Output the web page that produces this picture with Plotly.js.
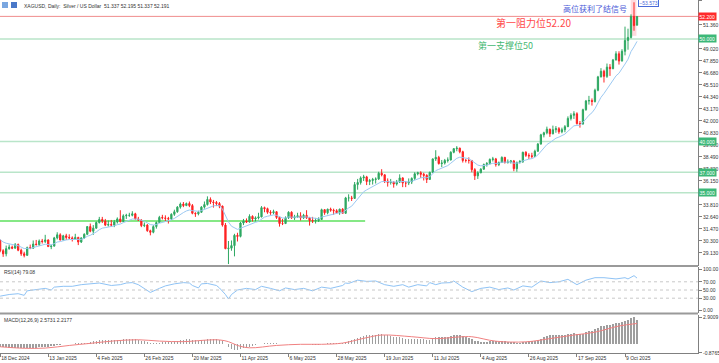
<!DOCTYPE html>
<html><head><meta charset="utf-8">
<script src="https://cdn.plot.ly/plotly-3.0.1.min.js"></script>
<style>html,body{margin:0;padding:0;background:#fff}#c{width:719px;height:363px}</style>
</head><body><div id="c"></div>
<script>
// ---- trading days (bars) ----
const dates = [
"2024-12-18","2024-12-19","2024-12-20","2024-12-23","2024-12-24","2024-12-26","2024-12-27","2024-12-30","2024-12-31","2025-01-02",
"2025-01-03","2025-01-06","2025-01-07","2025-01-08","2025-01-09","2025-01-10","2025-01-13","2025-01-14","2025-01-15","2025-01-16",
"2025-01-17","2025-01-20","2025-01-21","2025-01-22","2025-01-23","2025-01-24","2025-01-27","2025-01-28","2025-01-29","2025-01-30",
"2025-01-31","2025-02-03","2025-02-04","2025-02-05","2025-02-06","2025-02-07","2025-02-10","2025-02-11","2025-02-12","2025-02-13",
"2025-02-14","2025-02-17","2025-02-18","2025-02-19","2025-02-20","2025-02-21","2025-02-24","2025-02-25","2025-02-26","2025-02-27",
"2025-02-28","2025-03-03","2025-03-04","2025-03-05","2025-03-06","2025-03-07","2025-03-10","2025-03-11","2025-03-12","2025-03-13",
"2025-03-14","2025-03-17","2025-03-18","2025-03-19","2025-03-20","2025-03-21","2025-03-24","2025-03-25","2025-03-26","2025-03-27",
"2025-03-28","2025-03-31","2025-04-01","2025-04-02","2025-04-03","2025-04-04","2025-04-07","2025-04-08","2025-04-09","2025-04-10",
"2025-04-11","2025-04-14","2025-04-15","2025-04-16","2025-04-17","2025-04-21","2025-04-22","2025-04-23","2025-04-24","2025-04-25",
"2025-04-28","2025-04-29","2025-04-30","2025-05-01","2025-05-02","2025-05-05","2025-05-06","2025-05-07","2025-05-08","2025-05-09",
"2025-05-12","2025-05-13","2025-05-14","2025-05-15","2025-05-16","2025-05-19","2025-05-20","2025-05-21","2025-05-22","2025-05-23",
"2025-05-26","2025-05-27","2025-05-28","2025-05-29","2025-05-30","2025-06-02","2025-06-03","2025-06-04","2025-06-05","2025-06-06",
"2025-06-09","2025-06-10","2025-06-11","2025-06-12","2025-06-13","2025-06-16","2025-06-17","2025-06-18","2025-06-19","2025-06-20",
"2025-06-23","2025-06-24","2025-06-25","2025-06-26","2025-06-27","2025-06-30","2025-07-01","2025-07-02","2025-07-03","2025-07-04",
"2025-07-07","2025-07-08","2025-07-09","2025-07-10","2025-07-11","2025-07-14","2025-07-15","2025-07-16","2025-07-17","2025-07-18",
"2025-07-21","2025-07-22","2025-07-23","2025-07-24","2025-07-25","2025-07-28","2025-07-29","2025-07-30","2025-07-31","2025-08-01",
"2025-08-04","2025-08-05","2025-08-06","2025-08-07","2025-08-08","2025-08-11","2025-08-12","2025-08-13","2025-08-14","2025-08-15",
"2025-08-18","2025-08-19","2025-08-20","2025-08-21","2025-08-22","2025-08-25","2025-08-26","2025-08-27","2025-08-28","2025-08-29",
"2025-09-01","2025-09-02","2025-09-03","2025-09-04","2025-09-05","2025-09-08","2025-09-09","2025-09-10","2025-09-11","2025-09-12",
"2025-09-15","2025-09-16","2025-09-17","2025-09-18","2025-09-19","2025-09-22","2025-09-23","2025-09-24","2025-09-25","2025-09-26",
"2025-09-29","2025-09-30","2025-10-01","2025-10-02","2025-10-03","2025-10-06","2025-10-07","2025-10-08","2025-10-09","2025-10-10",
"2025-10-13","2025-10-14","2025-10-15"];

const open = [
30.35,29.35,29.05,29.55,29.70,29.60,29.95,29.40,29.05,28.90,
29.65,29.60,30.00,29.95,30.30,30.25,30.40,29.75,29.80,30.60,
30.90,30.40,30.80,30.65,30.60,30.45,30.65,30.20,30.60,30.95,
31.70,31.25,31.55,32.10,32.40,32.25,31.85,31.90,31.85,32.15,
32.45,32.20,32.75,32.80,32.80,32.95,32.45,32.35,31.80,31.85,
31.30,31.15,31.70,32.10,32.60,32.55,32.50,32.45,32.90,33.15,
33.60,33.90,33.75,33.95,33.75,33.00,32.95,33.10,33.60,33.85,
34.35,34.10,34.05,33.95,33.70,31.85,29.55,29.60,29.85,30.85,
30.75,32.05,32.25,32.15,32.70,32.45,32.55,32.65,33.55,33.45,
33.10,33.05,33.15,32.60,32.00,32.00,32.55,33.10,32.55,32.65,
32.75,32.55,32.80,32.55,32.30,32.25,32.30,32.40,33.35,33.05,
33.40,33.30,33.25,33.05,33.40,33.00,34.50,34.50,34.45,35.80,
36.00,36.45,36.55,36.10,36.20,36.30,36.35,36.90,36.75,36.15,
36.00,36.05,35.85,36.05,36.45,35.95,35.95,36.05,36.40,36.85,
36.95,36.80,36.70,36.30,37.00,38.30,38.45,37.85,37.90,38.15,
38.20,38.95,39.30,39.35,39.00,38.15,38.15,38.15,37.25,36.65,
36.95,37.30,37.75,37.85,38.25,38.30,37.75,37.95,38.45,37.95,
38.00,38.10,37.35,37.95,38.05,38.95,38.65,38.60,38.55,39.05,
39.75,40.65,40.85,41.20,40.75,41.15,41.25,40.95,41.15,41.45,
42.25,42.55,42.70,41.75,41.70,43.10,43.95,44.00,43.90,45.00,
46.30,46.85,46.35,47.25,47.10,47.95,48.55,47.85,48.80,49.85,
50.15,52.20,51.337];

const high = [
30.45,29.50,29.85,29.95,29.85,30.10,30.05,29.55,29.25,29.75,
29.95,30.35,30.40,30.45,30.50,30.90,30.45,29.95,30.70,31.15,
31.05,30.90,31.00,30.95,30.75,31.00,30.70,30.65,31.05,31.75,
32.00,31.85,32.20,32.65,32.65,32.45,32.30,32.35,32.35,32.60,
33.30,32.90,32.95,33.05,33.20,33.05,32.65,32.40,32.10,31.95,
31.40,31.85,32.20,32.75,32.85,32.80,32.65,33.00,33.35,33.70,
34.05,34.10,34.05,34.15,33.90,33.10,33.25,33.70,34.15,34.65,
34.55,34.30,34.20,34.10,33.75,32.05,30.30,30.35,31.00,31.10,
32.15,32.45,32.50,32.90,32.80,32.70,33.05,33.70,33.65,33.55,
33.30,33.35,33.20,32.70,32.45,32.70,33.20,33.20,32.85,33.05,
33.10,32.95,33.30,32.65,32.65,32.55,32.60,33.45,33.40,33.45,
33.55,33.45,33.40,33.45,33.50,34.60,34.85,34.70,36.05,36.35,
36.60,36.75,36.65,36.35,36.45,36.50,37.05,37.30,36.80,36.40,
36.35,36.10,36.25,36.80,36.50,36.15,36.40,36.50,37.00,37.05,
37.10,36.95,36.80,37.05,38.35,39.15,38.60,38.20,38.30,38.45,
39.05,39.35,39.55,39.40,39.10,38.30,38.45,38.20,37.40,37.10,
37.40,37.85,38.00,38.35,38.50,38.40,38.05,38.55,38.50,38.25,
38.20,38.20,38.05,38.20,39.00,39.05,38.85,38.90,39.20,39.85,
40.75,40.95,41.45,41.25,41.55,41.50,41.40,41.35,41.60,42.45,
42.75,42.95,42.85,42.00,43.20,44.05,44.45,44.20,45.15,46.40,
47.15,47.00,47.60,47.55,48.05,48.80,48.80,49.00,51.20,51.00,
52.40,53.573,52.195];

const low = [
29.20,28.75,28.80,29.45,29.50,29.55,29.30,28.85,28.70,28.85,
29.50,29.55,29.85,29.80,30.05,30.10,29.75,29.50,29.75,30.45,
30.35,30.35,30.40,30.50,30.25,30.40,29.90,30.10,30.50,30.90,
31.15,30.90,31.50,32.00,32.05,31.75,31.70,31.70,31.65,32.00,
32.10,32.15,32.45,32.65,32.70,32.40,32.25,31.65,31.65,31.20,
30.85,31.05,31.50,32.05,32.40,32.20,32.00,32.35,32.75,33.05,
33.45,33.60,33.70,33.60,32.90,32.65,32.80,33.05,33.45,33.75,
33.90,33.55,33.70,33.50,31.70,29.50,28.05,29.35,28.80,30.25,
30.65,31.85,32.05,32.10,32.20,32.20,32.40,32.60,33.10,32.95,
32.85,32.90,32.45,31.70,31.85,31.95,32.45,32.45,32.35,32.55,
32.30,32.45,32.45,31.80,32.05,32.00,32.15,32.35,32.85,32.90,
33.15,32.85,32.95,32.85,32.95,32.95,34.15,34.20,34.40,35.30,
35.80,36.15,35.75,35.75,35.80,35.90,36.25,36.60,35.95,35.60,
35.80,35.50,35.70,35.95,35.55,35.55,35.75,35.85,36.25,36.70,
36.45,36.20,35.95,36.25,36.95,38.10,37.75,37.50,37.75,37.95,
38.15,38.85,39.05,38.85,37.95,37.95,37.85,37.00,36.25,36.35,
36.90,37.25,37.55,37.75,38.05,37.55,37.60,37.90,37.85,37.85,
37.85,37.10,37.05,37.85,37.90,38.50,38.30,38.35,38.50,39.00,
39.70,40.40,40.70,40.45,40.70,40.85,40.75,40.80,40.90,41.40,
42.05,42.20,41.65,41.35,41.65,43.00,43.60,43.50,43.80,44.90,
46.25,45.75,46.20,46.40,47.05,47.90,47.50,47.80,48.40,48.95,
50.05,50.80,51.337];

const close = [
29.35,29.05,29.55,29.70,29.60,29.95,29.40,29.05,28.90,29.65,
29.60,30.00,29.95,30.30,30.25,30.40,29.75,29.80,30.60,30.90,
30.40,30.80,30.65,30.60,30.45,30.65,30.20,30.60,30.95,31.70,
31.25,31.55,32.10,32.40,32.25,31.85,31.90,31.85,32.15,32.45,
32.20,32.75,32.80,32.80,32.95,32.45,32.35,31.80,31.85,31.30,
31.15,31.70,32.10,32.60,32.55,32.50,32.45,32.90,33.15,33.60,
33.90,33.75,33.95,33.75,33.00,32.95,33.10,33.60,33.85,34.35,
34.10,34.05,33.95,33.70,31.85,29.55,29.60,29.85,30.85,30.75,
32.05,32.25,32.15,32.70,32.45,32.55,32.65,33.55,33.45,33.10,
33.05,33.15,32.60,32.00,32.00,32.55,33.10,32.55,32.65,32.75,
32.55,32.80,32.55,32.30,32.25,32.30,32.40,33.35,33.05,33.40,
33.30,33.25,33.05,33.40,33.00,34.50,34.50,34.45,35.80,36.00,
36.45,36.55,36.10,36.20,36.30,36.35,36.90,36.75,36.15,36.00,
36.05,35.85,36.05,36.45,35.95,35.95,36.05,36.40,36.85,36.95,
36.80,36.70,36.30,37.00,38.30,38.45,37.85,37.90,38.15,38.20,
38.95,39.30,39.35,39.00,38.15,38.15,38.15,37.25,36.65,36.95,
37.30,37.75,37.85,38.25,38.30,37.75,37.95,38.45,37.95,38.00,
38.10,37.35,37.95,38.05,38.95,38.65,38.60,38.55,39.05,39.75,
40.65,40.85,41.20,40.75,41.15,41.25,40.95,41.15,41.45,42.25,
42.55,42.70,41.75,41.70,43.10,43.95,44.00,43.90,45.00,46.30,
46.85,46.35,47.25,47.10,47.95,48.55,47.85,48.80,49.85,50.15,
52.20,51.30,52.191];

// moving average line (light blue), one value per bar
const maLine = [
30.45,30.20,30.08,30.01,29.94,29.94,29.84,29.70,29.56,29.58,
29.58,29.66,29.71,29.82,29.90,29.99,29.95,29.92,30.04,30.20,
30.24,30.34,30.40,30.44,30.44,30.48,30.43,30.46,30.55,30.76,
30.85,30.98,31.18,31.40,31.55,31.60,31.66,31.69,31.77,31.89,
31.95,32.09,32.22,32.32,32.44,32.44,32.42,32.31,32.23,32.06,
31.90,31.86,31.90,32.03,32.12,32.19,32.24,32.36,32.50,32.70,
32.92,33.07,33.23,33.32,33.26,33.21,33.19,33.26,33.37,33.55,
33.65,33.72,33.76,33.75,33.41,32.72,32.16,31.74,31.58,31.43,
31.54,31.67,31.76,31.93,32.02,32.12,32.21,32.45,32.63,32.71,
32.77,32.84,32.80,32.66,32.54,32.54,32.64,32.62,32.63,32.65,
32.63,32.66,32.64,32.58,32.52,32.48,32.47,32.63,32.70,32.83,
32.91,32.97,32.99,33.06,33.05,33.31,33.52,33.69,34.07,34.42,
34.78,35.10,35.28,35.45,35.60,35.74,35.95,36.09,36.10,36.08,
36.07,36.03,36.04,36.11,36.08,36.06,36.06,36.12,36.25,36.38,
36.45,36.50,36.46,36.56,36.87,37.16,37.28,37.39,37.53,37.65,
37.88,38.14,38.36,38.47,38.41,38.37,38.33,38.13,37.87,37.70,
37.63,37.65,37.69,37.79,37.88,37.86,37.88,37.98,37.97,37.98,
38.00,37.88,37.89,37.92,38.11,38.21,38.28,38.33,38.46,38.69,
39.04,39.37,39.70,39.89,40.12,40.32,40.43,40.56,40.72,41.00,
41.28,41.53,41.57,41.59,41.86,42.24,42.56,42.80,43.20,43.76,
44.31,44.68,45.14,45.49,45.93,46.40,46.66,47.05,47.55,48.02,
48.77,49.23,49.76];

// RSI(14), read at selected bars
const rsiBar = [0,3,6,8,9,12,15,17,18,21,24,27,30,33,37,40,42,44,46,49,50,53,55,58,61,63,64,66,67,69,72,73,75,76,77,79,82,85,87,90,93,95,98,101,104,107,110,114,115,116,119,122,125,128,131,134,136,139,142,143,145,147,150,151,154,157,160,163,166,169,171,174,177,180,183,186,189,192,195,198,201,205,208,209,211,212];
const rsiVal = [35,39,41,37,48,51,54,50,57,59,59,63,65,67,61,63,67,68,63,48,44,54,60,65,68,67,61,55,65,66,61,55,39,28,39,50,54,51,59,54,48,55,51,54,48,57,54,61,67,66,74,71,72,63,59,63,57,63,60,68,63,67,68,72,57,46,54,57,51,55,50,60,57,72,68,70,76,63,74,80,80,77,80,77,85,79.08];

// MACD(12,26,9) main histogram, one value per bar
const macdMain = [
-0.25,-0.28,-0.31,-0.33,-0.35,-0.36,-0.37,-0.39,-0.41,-0.40,
-0.39,-0.36,-0.34,-0.30,-0.27,-0.23,-0.22,-0.20,-0.15,-0.09,
-0.06,0.00,0.04,0.07,0.09,0.11,0.12,0.12,0.15,0.19,
0.26,0.32,0.38,0.45,0.49,0.49,0.48,0.47,0.48,0.51,
0.50,0.53,0.55,0.56,0.57,0.53,0.49,0.40,0.34,0.25,
0.17,0.15,0.16,0.20,0.22,0.23,0.24,0.28,0.33,0.40,
0.48,0.52,0.56,0.56,0.50,0.45,0.42,0.44,0.47,0.53,
0.55,0.56,0.55,0.52,0.38,0.05,-0.25,-0.45,-0.55,-0.60,
-0.52,-0.42,-0.33,-0.22,-0.14,-0.06,0.00,0.08,0.13,0.15,
0.16,0.17,0.13,0.06,0.02,0.02,0.07,0.06,0.06,0.07,
0.05,0.06,0.04,0.00,-0.03,-0.04,-0.04,0.05,0.08,0.12,
0.14,0.15,0.14,0.16,0.14,0.26,0.36,0.44,0.59,0.71,
0.84,0.94,0.97,1.00,1.02,1.03,1.08,1.09,1.02,0.95,
0.88,0.80,0.75,0.74,0.66,0.60,0.56,0.56,0.59,0.61,
0.61,0.57,0.50,0.52,0.65,0.75,0.78,0.80,0.83,0.84,
0.90,0.96,0.99,0.97,0.88,0.80,0.73,0.58,0.42,0.33,
0.28,0.27,0.29,0.33,0.36,0.32,0.31,0.35,0.32,0.31,
0.30,0.22,0.21,0.21,0.28,0.31,0.32,0.33,0.38,0.47,
0.62,0.77,0.91,0.96,1.01,1.04,1.02,1.01,1.02,1.09,
1.16,1.23,1.16,1.09,1.15,1.29,1.40,1.47,1.59,1.76,
1.91,1.97,2.07,2.11,2.20,2.29,2.27,2.33,2.45,2.62,
2.82,2.90,2.5731];

// MACD signal line, read at selected bars
const sigBar = [0,8,15,23,30,38,46,53,61,69,73,76,79,83,92,100,107,114,122,127,137,145,153,157,165,175,183,191,198,206,212];
const sigVal = [-0.24,-0.40,-0.38,-0.10,0.12,0.38,0.50,0.36,0.30,0.47,0.48,0.30,-0.10,-0.35,-0.10,0.02,0.02,0.15,0.72,1.00,0.82,0.62,0.80,0.82,0.35,0.28,0.62,1.00,1.30,1.95,2.2177];

const tickBars = [0,16,32,48,64,80,96,112,128,144,160,176,192,208];
const tickText = ["18 Dec 2024","13 Jan 2025","4 Feb 2025","26 Feb 2025","20 Mar 2025","11 Apr 2025","6 May 2025","28 May 2025","19 Jun 2025","11 Jul 2025","4 Aug 2025","26 Aug 2025","17 Sep 2025","9 Oct 2025"];
const priceTicks = [29.13,30.30,31.47,32.64,33.81,36.15,37.32,38.49,39.66,40.83,42.00,43.17,44.34,45.51,46.68,47.85,49.02,51.36,53.70];
const levels = [50,40,37,35];
const resistance = 52.20;
const baseLine = 32.25;
const lastHigh = 53.573;

const F = "Liberation Sans, Arial, sans-serif";
const CJK = "Noto Sans CJK SC, sans-serif";

const traces = [
  {type:'candlestick', x:dates, open:open, high:high, low:low, close:close, xaxis:'x', yaxis:'y',
   increasing:{line:{color:'#2ea862',width:1}, fillcolor:'#2ea862'},
   decreasing:{line:{color:'#ff2222',width:1}, fillcolor:'#ff2222'},
   whiskerwidth:0, hoverinfo:'skip'},
  {type:'scatter', mode:'lines', x:dates, y:maLine, xaxis:'x', yaxis:'y',
   line:{color:'#9cc9f2', width:1}, hoverinfo:'skip'},
  {type:'scatter', mode:'lines', x:rsiBar.map(i=>dates[i]), y:rsiVal, xaxis:'x', yaxis:'y2',
   line:{color:'#8fc3f5', width:1}, hoverinfo:'skip'},
  {type:'bar', x:dates, y:macdMain, xaxis:'x', yaxis:'y3', width:0.5,
   marker:{color:'#9e9e9e', line:{width:0}}, hoverinfo:'skip'},
  {type:'scatter', mode:'lines', x:sigBar.map(i=>dates[i]), y:sigVal, xaxis:'x', yaxis:'y3',
   line:{color:'#f08080', width:1, shape:'spline'}, hoverinfo:'skip'}
];

const shapes = [];
levels.forEach(v => shapes.push({type:'line', xref:'paper', x0:0, x1:1, yref:'y', y0:v, y1:v, line:{color:'#b9e5c9', width:1.5}, layer:'below'}));
shapes.push({type:'line', xref:'paper', x0:0, x1:1, yref:'y', y0:resistance, y1:resistance, line:{color:'#f08c8c', width:1}, layer:'below'});
shapes.push({type:'line', xref:'x', x0:-1, x1:121.5, yref:'y', y0:baseLine, y1:baseLine, line:{color:'#86e886', width:2}, layer:'below'});
shapes.push({type:'rect', xref:'x', x0:209.9, x1:211.8, yref:'y', y0:50.3, y1:54, fillcolor:'rgba(255,170,180,0.45)', line:{width:0}, layer:'below'});
[30,50,70].forEach(v => shapes.push({type:'line', xref:'paper', x0:0, x1:1, yref:'y2', y0:v, y1:v, line:{color:'#c8c8c8', width:1, dash:'dot'}}));
shapes.push({type:'line', xref:'paper', x0:0, x1:1, yref:'paper', y0:(353-266)/353, y1:(353-266)/353, line:{color:'#9a9a9a', width:2}});
shapes.push({type:'line', xref:'paper', x0:0, x1:1, yref:'paper', y0:(353-313.5)/353, y1:(353-313.5)/353, line:{color:'#9a9a9a', width:2}});
shapes.push({type:'rect', xref:'paper', yref:'paper', x0:2/698, x1:8/698, y0:1-2/353, y1:1-8/353, fillcolor:'#7aa7e0', line:{width:0}});
shapes.push({type:'rect', xref:'paper', yref:'paper', x0:11/698, x1:17/698, y0:1-2/353, y1:1-8/353, fillcolor:'#4a78c8', line:{width:0}});

const annotations = [
  {xref:'paper', yref:'paper', x:22/698, y:1-1/353, xanchor:'left', yanchor:'top', showarrow:false,
   text:'XAGUSD, Daily:  Silver / US Dollar  51.337 52.195 51.337 52.191', font:{family:F, size:5, color:'#333'}},
  {xref:'paper', yref:'y2 domain', x:2/698, y:1, xanchor:'left', yanchor:'top', showarrow:false,
   text:'RSI(14) 79.08', font:{family:F, size:5, color:'#333'}},
  {xref:'paper', yref:'y3 domain', x:2/698, y:1, xanchor:'left', yanchor:'top', showarrow:false,
   text:'MACD(12,26,9) 2.5731 2.2177', font:{family:F, size:5, color:'#333'}},
  {xref:'paper', yref:'paper', x:595/698, y:1-8.3/353, xanchor:'center', yanchor:'middle', showarrow:false,
   text:'高位获利了结信号', font:{family:CJK, size:8, color:'#4a5ad8'}},
  {xref:'paper', yref:'paper', x:533/698, y:1-22.3/353, xanchor:'center', yanchor:'middle', showarrow:false,
   text:'第一阻力位52.20', font:{family:CJK, size:10, color:'#ff4a4a'}},
  {xref:'paper', yref:'paper', x:505/698, y:1-45/353, xanchor:'center', yanchor:'middle', showarrow:false,
   text:'第一支撑位50', font:{family:CJK, size:9, color:'#45b872'}},
  {xref:'paper', yref:'y', x:1, y:resistance, xanchor:'left', yanchor:'middle', showarrow:false,
   text:resistance.toFixed(3), bgcolor:'#ff2a2a', font:{family:F, size:5, color:'#fff'}, borderpad:0.5},
  ...levels.map(v => ({xref:'paper', yref:'y', x:1, y:v, xanchor:'left', yanchor:'middle', showarrow:false,
   text:v.toFixed(3), bgcolor:'#3cb878', font:{family:F, size:5, color:'#fff'}, borderpad:0.5})),
  {xref:'x', yref:'y', x:212.4, y:lastHigh, xanchor:'left', yanchor:'middle', showarrow:false,
   text:'–'+lastHigh.toFixed(3), bgcolor:'#fff', bordercolor:'#4a6ad8', borderwidth:1, font:{family:F, size:5, color:'#4a6ad8'}, borderpad:0.5}
];

const axisFont = {family:F, size:5, color:'#333'};
const layout = {
  width:719, height:363, margin:{l:0, r:21, t:0, b:10},
  paper_bgcolor:'#fff', plot_bgcolor:'#fff', showlegend:false, bargap:0,
  boxgap:0.4,
  xaxis:{type:'category', range:[-0.05,232.3], anchor:'y3', rangeslider:{visible:false},
    tickvals:tickBars.map(i=>dates[i]), ticktext:tickText, ticks:'outside', ticklen:3, tickcolor:'#808080',
    ticklabelposition:'outside right', tickfont:axisFont, showline:true, linecolor:'#808080', linewidth:1,
    showgrid:false, zeroline:false, fixedrange:true},
  yaxis:{domain:[(353-266)/353,1], range:[27.86,53.797], anchor:'x', side:'right',
    tickvals:priceTicks, tickformat:'.3f', ticks:'outside', ticklen:3, tickcolor:'#808080', tickfont:axisFont,
    showline:true, linecolor:'#808080', showgrid:false, zeroline:false},
  yaxis2:{domain:[(353-313)/353,(353-267)/353], range:[-6.1,106.1], anchor:'x', side:'right',
    tickvals:[0,30,50,70,100], tickformat:'.2f', ticks:'outside', ticklen:3, tickcolor:'#808080', tickfont:axisFont,
    showline:true, linecolor:'#808080', showgrid:false, zeroline:false},
  yaxis3:{domain:[0,(353-314.5)/353], range:[-0.8976,3.1646], anchor:'x', side:'right',
    tickvals:[-0.8765,2.9009], ticktext:['-0.8765','2.9009'], ticks:'outside', ticklen:3, tickcolor:'#808080', tickfont:axisFont,
    showline:true, linecolor:'#808080', showgrid:false, zeroline:false},
  shapes:shapes, annotations:annotations
};
Plotly.newPlot('c', traces, layout, {staticPlot:true, displayModeBar:false});
</script></body></html>
